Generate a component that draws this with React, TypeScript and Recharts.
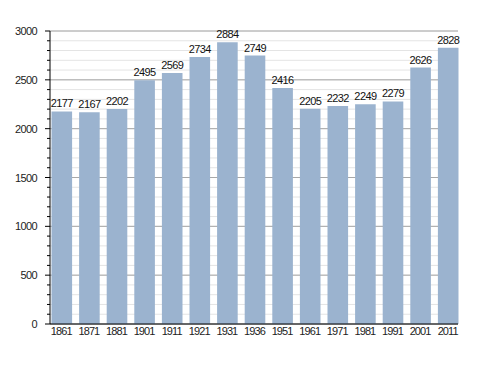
import React from "react";
import { BarChart, Bar, XAxis, YAxis, CartesianGrid, LabelList } from "recharts";

const years = ["1861", "1871", "1881", "1901", "1911", "1921", "1931", "1936", "1951", "1961", "1971", "1981", "1991", "2001", "2011"];
const population = [2177, 2167, 2202, 2495, 2569, 2734, 2884, 2749, 2416, 2205, 2232, 2249, 2279, 2626, 2828];
const majorTicks = [0, 500, 1000, 1500, 2000, 2500, 3000];
const minorTicks = Array.from({ length: 31 }, (_, i) => i * 100);

const data = years.map((year, i) => ({ year, value: population[i] }));

const FONT = "'Liberation Sans', Arial, sans-serif";

const YTick = (props: any) => {
  const { x, y, payload } = props;
  const major = payload.value % 500 === 0;
  return (
    <g>
      <line x1={x - (major ? 5 : 3)} x2={x} y1={y} y2={y} stroke="#000" strokeWidth={1} />
      {major && (
        <text
          x={x - 13}
          y={y}
          dy={4}
          textAnchor="end"
          fontSize={11}
          letterSpacing={-0.6}
          fill="#222"
          fontFamily={FONT}
        >
          {payload.value}
        </text>
      )}
    </g>
  );
};

export default function App() {
  return (
    <div style={{ position: "absolute", left: 0, top: 0, background: "#fff" }}>
      <BarChart
        width={488}
        height={373}
        data={data}
        margin={{ top: 31, right: 30, bottom: 29, left: 0 }}
        barSize={20.6}
      >
        <CartesianGrid horizontalValues={minorTicks} vertical={false} stroke="#e4e4e4" />
        <CartesianGrid horizontalValues={majorTicks} vertical={false} stroke="#a8a8a8" />
        <XAxis
          dataKey="year"
          interval={0}
          padding={{ left: -2.5, right: -3.5 }}
          tickLine={false}
          tickSize={0}
          tickMargin={3}
          height={20}
          axisLine={{ stroke: "#000" }}
          tick={{ fontSize: 11, letterSpacing: -0.9, fill: "#222", fontFamily: FONT }}
        />
        <YAxis
          domain={[0, 3000]}
          ticks={minorTicks}
          interval={0}
          width={50}
          tickSize={0}
          tickMargin={0}
          tickLine={false}
          axisLine={{ stroke: "#000" }}
          tick={<YTick />}
        />
        <Bar dataKey="value" fill="#9bb3cf" isAnimationActive={false}>
          <LabelList
            dataKey="value"
            position="top"
            offset={4}
            fontSize={11}
            letterSpacing={-0.6}
            fill="#111"
            fontFamily={FONT}
          />
        </Bar>
      </BarChart>
    </div>
  );
}
